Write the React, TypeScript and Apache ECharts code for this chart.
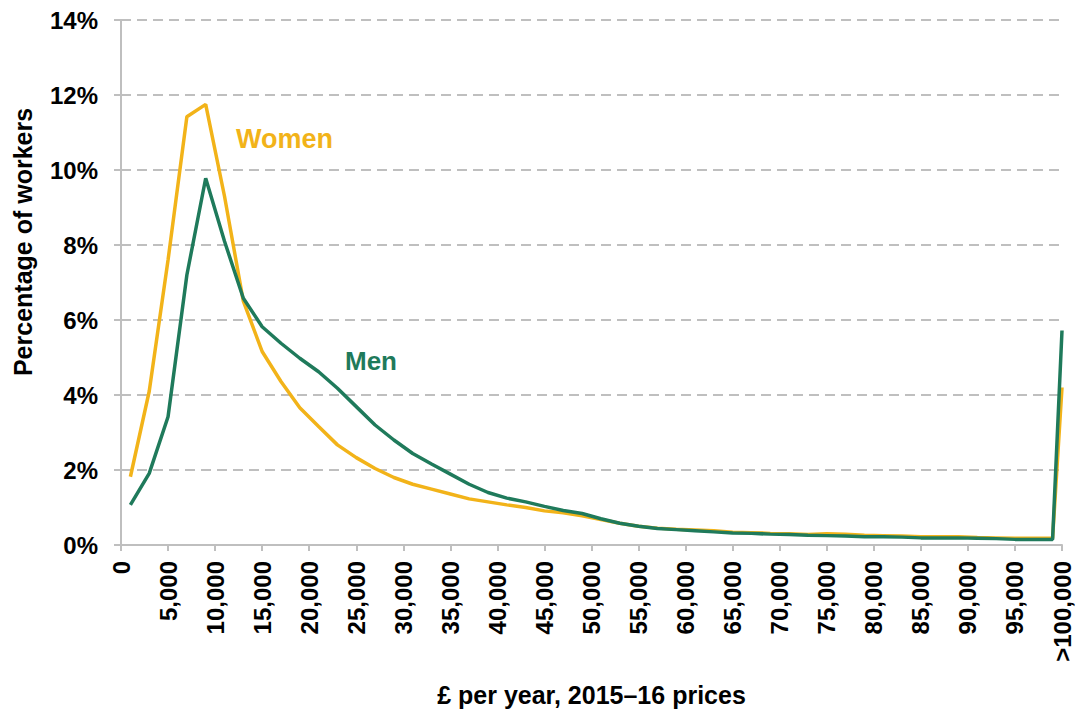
import React, { useEffect, useRef } from "react";
import * as echarts from "echarts";

const incomeBins = [
  1000, 3000, 5000, 7000, 9000, 11000, 13000, 15000, 17000, 19000,
  21000, 23000, 25000, 27000, 29000, 31000, 33000, 35000, 37000, 39000,
  41000, 43000, 45000, 47000, 49000, 51000, 53000, 55000, 57000, 59000,
  61000, 63000, 65000, 67000, 69000, 71000, 73000, 75000, 77000, 79000,
  81000, 83000, 85000, 87000, 89000, 91000, 93000, 95000, 97000, 99000,
  100000,
];

const womenPct = [
  1.82, 4.1, 7.6, 11.42, 11.75, 9.3, 6.5, 5.16, 4.36, 3.66,
  3.16, 2.67, 2.33, 2.04, 1.8, 1.62, 1.49, 1.36, 1.23, 1.15,
  1.07, 1.0, 0.91, 0.86, 0.78, 0.68, 0.58, 0.5, 0.45, 0.42,
  0.4, 0.38, 0.34, 0.33, 0.31, 0.3, 0.28, 0.3, 0.29, 0.26,
  0.25, 0.24, 0.22, 0.22, 0.22, 0.2, 0.19, 0.18, 0.18, 0.18,
  4.2,
];

const menPct = [
  1.07, 1.91, 3.42, 7.2, 9.78, 8.1, 6.58, 5.82, 5.38, 4.98,
  4.62, 4.18, 3.69, 3.2, 2.8, 2.44, 2.16, 1.89, 1.62, 1.4,
  1.25, 1.15, 1.03, 0.92, 0.84, 0.7, 0.58, 0.5, 0.44, 0.41,
  0.38, 0.35, 0.32, 0.31, 0.29, 0.28, 0.26, 0.25, 0.24, 0.22,
  0.22, 0.21, 0.19, 0.19, 0.19, 0.18, 0.17, 0.15, 0.15, 0.15,
  5.72,
];

const xTickLabels = [
  "0", "5,000", "10,000", "15,000", "20,000", "25,000", "30,000", "35,000",
  "40,000", "45,000", "50,000", "55,000", "60,000", "65,000", "70,000",
  "75,000", "80,000", "85,000", "90,000", "95,000", ">100,000",
];

const WOMEN_COLOR = "#F2B319";
const MEN_COLOR = "#1F7A5B";
const GRID_COLOR = "#BFBFBF";
const FONT = '"Liberation Sans", Arial, sans-serif';

export default function App() {
  const ref = useRef<HTMLDivElement>(null);

  useEffect(() => {
    if (!ref.current) return;
    const chart = echarts.init(ref.current, null, { renderer: "svg" });
    const women = incomeBins.map((x, i) => [x, womenPct[i]]);
    const men = incomeBins.map((x, i) => [x, menPct[i]]);

    chart.setOption({
      animation: false,
      backgroundColor: "#ffffff",
      grid: {
        left: 121,
        right: 15,
        top: 20,
        bottom: 168,
        containLabel: false,
        outerBoundsMode: "none",
      },
      xAxis: {
        type: "value",
        min: 0,
        max: 100000,
        interval: 5000,
        name: "£ per year, 2015–16 prices",
        nameLocation: "middle",
        nameGap: 137,
        nameTextStyle: { color: "#000", fontWeight: "bold", fontSize: 25, fontFamily: FONT },
        axisLine: { show: true, lineStyle: { color: GRID_COLOR, width: 2 } },
        axisTick: { show: true, length: 6, lineStyle: { color: GRID_COLOR, width: 2 } },
        splitLine: { show: false },
        axisLabel: {
          rotate: 90,
          margin: 16,
          color: "#000",
          fontWeight: "bold",
          fontSize: 24,
          fontFamily: FONT,
          showMinLabel: true,
          showMaxLabel: true,
          formatter: (v: number) => xTickLabels[Math.round(v / 5000)] ?? "",
        },
      },
      yAxis: {
        type: "value",
        min: 0,
        max: 14,
        interval: 2,
        axisLine: { show: true, lineStyle: { color: GRID_COLOR, width: 2 } },
        axisTick: { show: true, length: 7, lineStyle: { color: GRID_COLOR, width: 2 } },
        splitLine: { show: true, lineStyle: { color: GRID_COLOR, width: 2, type: [10, 6] } },
        axisLabel: {
          margin: 23,
          color: "#000",
          fontWeight: "bold",
          fontSize: 24,
          fontFamily: FONT,
          formatter: (v: number) => `${v}%`,
        },
      },
      graphic: [
        {
          type: "text",
          x: 23,
          y: 242,
          rotation: Math.PI / 2,
          style: {
            text: "Percentage of workers",
            fill: "#000",
            fontWeight: "bold",
            fontSize: 25,
            fontFamily: FONT,
            align: "center",
            verticalAlign: "middle",
          },
        },
        {
          type: "text",
          x: 236,
          y: 139,
          style: {
            text: "Women",
            fill: WOMEN_COLOR,
            fontWeight: "bold",
            fontSize: 27,
            fontFamily: FONT,
            align: "left",
            verticalAlign: "middle",
          },
        },
        {
          type: "text",
          x: 345,
          y: 361,
          style: {
            text: "Men",
            fill: MEN_COLOR,
            fontWeight: "bold",
            fontSize: 26,
            fontFamily: FONT,
            align: "left",
            verticalAlign: "middle",
          },
        },
      ],
      series: [
        {
          name: "Women",
          type: "line",
          data: women,
          symbol: "none",
          lineStyle: { color: WOMEN_COLOR, width: 3.5 },
          z: 2,
        },
        {
          name: "Men",
          type: "line",
          data: men,
          symbol: "none",
          lineStyle: { color: MEN_COLOR, width: 3.5 },
          z: 3,
        },
      ],
    });

    return () => chart.dispose();
  }, []);

  return (
    <div
      ref={ref}
      style={{ position: "absolute", left: 0, top: 0, width: 1077, height: 713 }}
    />
  );
}
